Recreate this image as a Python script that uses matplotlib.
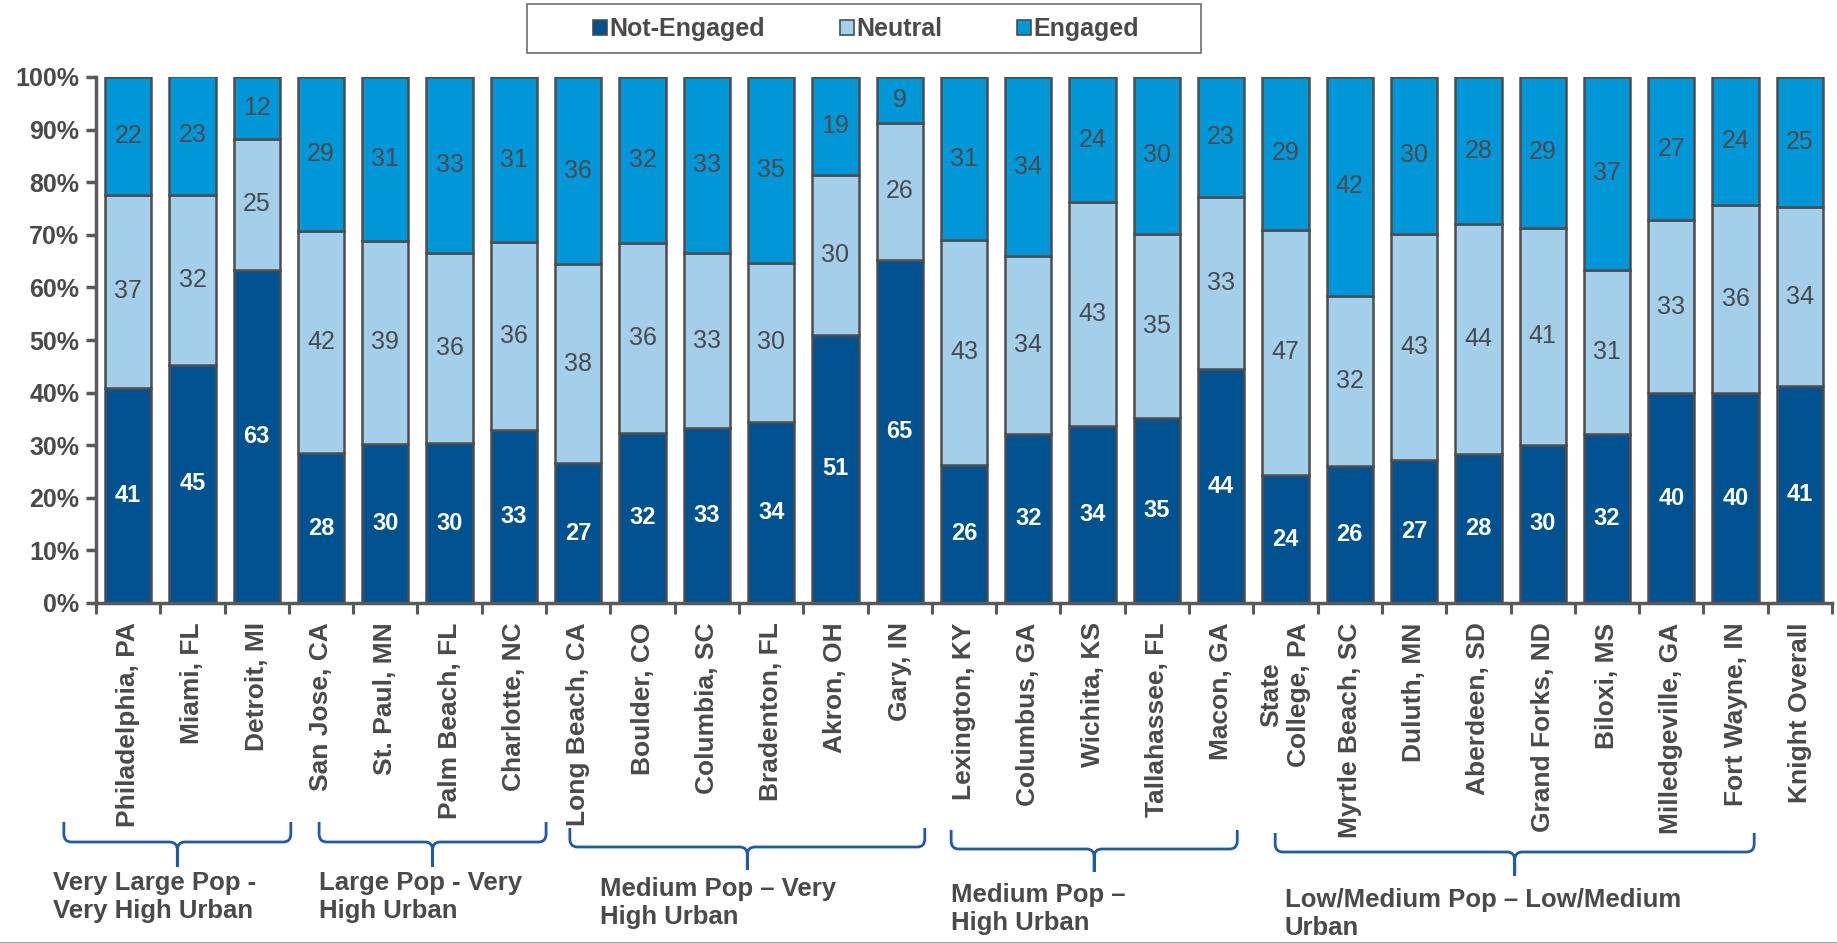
import numpy as np
import matplotlib
matplotlib.use("Agg")
import matplotlib.pyplot as plt
import matplotlib.transforms as mtransforms
from matplotlib.path import Path
from matplotlib.patches import PathPatch, Rectangle, Patch
from matplotlib.lines import Line2D

plt.rcParams['font.family'] = ['Liberation Sans', 'DejaVu Sans']

# ------------------------------------------------------------------
# Data (percent of respondents)
# ------------------------------------------------------------------
cities = ['Philadelphia, PA', 'Miami, FL', 'Detroit, MI', 'San Jose, CA',
          'St. Paul, MN', 'Palm Beach, FL', 'Charlotte, NC', 'Long Beach, CA',
          'Boulder, CO', 'Columbia, SC', 'Bradenton, FL', 'Akron, OH',
          'Gary, IN', 'Lexington, KY', 'Columbus, GA', 'Wichita, KS',
          'Tallahassee, FL', 'Macon, GA', 'State\nCollege, PA',
          'Myrtle Beach, SC', 'Duluth, MN', 'Aberdeen, SD', 'Grand Forks, ND',
          'Biloxi, MS', 'Milledgeville, GA', 'Fort Wayne, IN', 'Knight Overall']

not_engaged = [40.9, 45.3, 63.4, 28.5, 30.3, 30.4, 32.9, 26.6, 32.4, 33.2,
               34.4, 51.0, 65.3, 26.3, 32.1, 33.6, 35.2, 44.4, 24.3, 26.1,
               27.2, 28.4, 30.1, 32.1, 39.9, 39.9, 41.2]
neutral = [36.7, 32.3, 24.8, 42.2, 38.6, 36.2, 35.7, 37.8, 36.0, 33.4,
           30.3, 30.3, 26.0, 42.7, 33.8, 42.6, 35.0, 32.7, 46.7, 32.3,
           43.0, 43.6, 41.2, 31.3, 32.9, 35.8, 34.1]
engaged = [22.4, 22.6, 11.8, 29.3, 31.1, 33.4, 31.4, 35.6, 31.6, 33.4,
           35.3, 18.7, 8.7, 31.0, 34.1, 23.8, 29.8, 22.9, 29.0, 41.6,
           29.8, 28.0, 28.7, 36.6, 27.2, 24.3, 24.7]

group_labels = ['Very Large Pop -\nVery High Urban',
                'Large Pop - Very\nHigh Urban',
                'Medium Pop \u2013 Very\nHigh Urban',
                'Medium Pop \u2013\nHigh Urban',
                'Low/Medium Pop \u2013 Low/Medium\nUrban']

series_names = ['Not-Engaged', 'Neutral', 'Engaged']

# ------------------------------------------------------------------
# Styling
# ------------------------------------------------------------------
c_ne = '#00518F'
c_neu = '#A3CFEB'
c_eng = '#0097D9'
c_edge = '#4D4D4F'
c_text = '#4A4A4C'
c_brace = '#1F5AA6'

W, H = 1837, 943
fig = plt.figure(figsize=(W / 100, H / 100), dpi=100)
ax = fig.add_axes([96 / W, 1 - 603 / H, (1832 - 96) / W, (603 - 77) / H])

x = np.arange(len(cities))
bw = 0.72
ne = np.array(not_engaged)
neu = np.array(neutral)
eng = np.array(engaged)

ax.bar(x, ne, bw, color=c_ne, edgecolor=c_edge, linewidth=1.8, zorder=2)
ax.bar(x, neu, bw, bottom=ne, color=c_neu, edgecolor=c_edge, linewidth=1.8, zorder=2)
ax.bar(x, eng, bw, bottom=ne + neu, color=c_eng, edgecolor=c_edge, linewidth=1.8, zorder=2)

# value labels in segment centres
for i in range(len(x)):
    ax.text(x[i], ne[i] / 2, f'{ne[i]:.0f}', ha='center', va='center',
            color='white', fontsize=17, fontweight='bold', zorder=3)
    ax.text(x[i], ne[i] + neu[i] / 2, f'{neu[i]:.0f}', ha='center', va='center',
            color=c_text, fontsize=18, zorder=3)
    ax.text(x[i], ne[i] + neu[i] + eng[i] / 2, f'{eng[i]:.0f}', ha='center',
            va='center', color=c_text, fontsize=18, zorder=3)

# axes
ax.set_xlim(-0.5, len(cities) - 0.5)
ax.set_ylim(0, 100)
for s in ['top', 'right']:
    ax.spines[s].set_visible(False)
for s in ['left', 'bottom']:
    ax.spines[s].set_color('#58595B')
    ax.spines[s].set_linewidth(2.5)

ax.set_yticks(np.arange(0, 101, 10))
ax.set_yticklabels([f'{v}%' for v in range(0, 101, 10)])
ax.tick_params(axis='y', length=7, width=2.5, color='#58595B', labelsize=18,
               labelcolor=c_text, pad=5)
for lab in ax.get_yticklabels():
    lab.set_fontweight('bold')

ax.set_xticks(x)
ax.set_xticklabels(cities, rotation=90, fontsize=19, fontweight='bold',
                   color=c_text, va='top', ha='center', multialignment='center')
ax.set_xticks(np.arange(-0.5, len(cities), 1), minor=True)
ax.tick_params(axis='x', which='major', length=0, pad=14)
ax.tick_params(axis='x', which='minor', length=8, width=2.2, color='#58595B')

# ------------------------------------------------------------------
# Legend (boxed, across the top)
# ------------------------------------------------------------------
fig.patches.append(Rectangle((527 / W, 1 - 53 / H), (1201 - 527) / W, 49 / H,
                             transform=fig.transFigure, fill=False,
                             edgecolor='#6D6E71', linewidth=1.2))
handles = [Patch(facecolor=c, edgecolor=c_edge, linewidth=1.2)
           for c in (c_ne, c_neu, c_eng)]
leg = fig.legend(handles, series_names, loc='center',
                 bbox_to_anchor=(866 / W, 1 - 29 / H), ncol=3, frameon=False,
                 handlelength=0.55, handleheight=0.55, handletextpad=0.1,
                 columnspacing=3.0, prop={'size': 18, 'weight': 'bold'})
for t in leg.get_texts():
    t.set_color(c_text)

# ------------------------------------------------------------------
# Group braces below the city names
# ------------------------------------------------------------------
trans = mtransforms.blended_transform_factory(ax.transData, fig.transFigure)
brace_x = [(-1.0, 2.53), (2.97, 6.5), (6.87, 12.39), (12.8, 17.25), (17.84, 25.29)]
brace_y = [(822, 842, 867), (822, 842, 867), (828, 847, 870), (830, 849, 872),
           (833, 852, 876)]
text_pos = [(-1.17, 871), (2.97, 871), (7.34, 877), (12.8, 883), (17.99, 888)]


def brace(x0, x1, ytop, yline, ytip):
    yt, yl, yp = 1 - ytop / H, 1 - yline / H, 1 - ytip / H
    rx, ry = 0.12, 8 / H
    xc = (x0 + x1) / 2
    verts = [(x0, yt), (x0, yl + ry), (x0, yl), (x0 + rx, yl),
             (xc - rx, yl), (xc, yl), (xc, yl - ry), (xc, yp),
             (xc, yp), (xc, yl - ry), (xc, yl), (xc + rx, yl),
             (x1 - rx, yl), (x1, yl), (x1, yl + ry), (x1, yt)]
    codes = [Path.MOVETO, Path.LINETO, Path.CURVE3, Path.CURVE3,
             Path.LINETO, Path.CURVE3, Path.CURVE3, Path.LINETO,
             Path.MOVETO, Path.LINETO, Path.CURVE3, Path.CURVE3,
             Path.LINETO, Path.CURVE3, Path.CURVE3, Path.LINETO]
    p = PathPatch(Path(verts, codes), transform=trans, fill=False,
                  edgecolor=c_brace, linewidth=2, clip_on=False)
    ax.add_patch(p)


for (bx0, bx1), (yt, yl, yp), (tx, ty), lab in zip(brace_x, brace_y, text_pos, group_labels):
    brace(bx0, bx1, yt, yl, yp)
    ax.text(tx, 1 - ty / H, lab, transform=trans, ha='left', va='top',
            fontsize=18.5, fontweight='bold', color=c_text, linespacing=1.22,
            clip_on=False)

# thin frame line at the bottom edge
fig.add_artist(Line2D([0, 1], [0.5 / H, 0.5 / H], transform=fig.transFigure,
                      color='#A6A6A6', linewidth=1.5))

fig.savefig('out.png', dpi=100)
